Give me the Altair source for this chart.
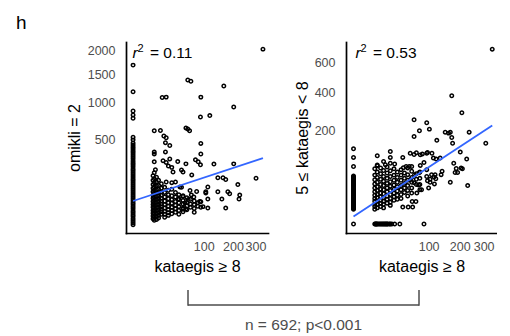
import math
import altair as alt
import pandas as pd

# ---------------- tick labels ----------------
x_ticks = [100, 200, 300]
left_y_ticks = [500, 1000, 1500, 2000]
right_y_ticks = [200, 400, 600]

# ---------------- left panel: omikli = 2 vs kataegis >= 8 ----------------
left_zero_y = [1690, 1187, 877, 820, 773, 531, 501, 467, 446, 425, 405, 385, 366,
               347, 329, 311, 293, 276, 260, 244, 228, 214, 200, 186, 172, 159,
               147, 135, 124, 113, 103, 93, 83, 74, 66, 58, 51, 44, 38, 32, 26,
               21, 17, 13, 10, 7, 4.5, 2.6, 1.3]
left_x = [338, 60, 67, 165, 17, 22, 92, 203, 91, 118, 56, 60, 64, 9, 15, 19, 22,
          21, 27, 92, 9, 9, 21, 92, 78, 85, 91, 9, 18, 22, 27, 40, 56, 131, 203,
          10, 25, 30, 32, 47, 50, 69, 144, 162, 172, 303, 22, 30, 36, 220, 47, 44,
          112, 106, 144, 180, 187, 228, 225, 158, 92, 112, 112, 92, 172, 56, 50,
          41, 50, 54, 65, 68, 61, 74, 81, 89, 98, 106]
left_y = [2035, 1397, 1373, 1287, 1089, 1095, 1095, 938, 791, 810, 644, 630, 608,
          608, 612, 545, 525, 470, 440, 462, 375, 356, 375, 355, 302, 285, 260,
          285, 295, 280, 310, 287, 268, 266, 268, 222, 250, 240, 205, 220, 205,
          185, 166, 166, 155, 163, 140, 136, 140, 125, 110, 112, 112, 88, 88, 88,
          79, 73, 57, 57, 47, 57, 28, 30, 28, 26, 25,
          55, 67, 43, 94, 74, 55, 65, 89, 48, 32, 82]
left_cluster = {
    8: [180, 150, 125, 105, 88, 72, 60, 48, 38, 30, 22, 16, 11, 7],
    9: [200, 160, 135, 112, 95, 80, 66, 54, 44, 35, 27, 20, 14, 9, 5],
    11: [170, 140, 118, 98, 82, 68, 56, 46, 37, 29, 22, 16, 10, 6],
    13: [150, 120, 100, 84, 70, 58, 47, 38, 30, 23, 17, 12, 8],
    16: [130, 105, 88, 72, 60, 49, 40, 32, 25, 19, 14],
    20: [110, 85, 65, 50, 38, 28, 20, 14, 9],
    25: [95, 75, 58, 44, 33, 24, 17, 12],
    30: [100, 70, 55, 42, 30, 22, 15],
    36: [85, 65, 48, 36, 26, 18],
    42: [75, 58, 44, 32, 22, 14],
    50: [70, 52, 40, 28, 19],
    58: [62, 45, 34, 24],
    66: [56, 40, 30],
    75: [50, 38, 27, 18],
    84: [44, 33],
}
left_fit_x = [0, 338]
left_fit_y = [50, 317]
left_r2 = 0.11

# ---------------- right panel: 5 <= kataegis < 8 vs kataegis >= 8 ----------------
right_zero_y = [130, 102, 76, 53, 51, 49, 47, 45, 43, 41, 39, 37, 35, 34, 32, 30,
                28, 27, 25, 24, 22, 21, 19, 18, 17, 16, 14.5, 13.5, 12.4, 11.4,
                10.4, 9.5, 8.6, 7.7, 6.9, 6.1, 5.5, 5, 0]
right_base_x = [8, 8.5, 9, 9.5, 10, 11, 12, 13, 14, 15, 16, 17, 18, 19, 20, 21, 23,
                24, 26, 30, 38, 88]
right_x = [341, 171, 208, 65, 95, 65, 77, 102, 149, 166, 237, 171, 174, 123, 310,
           10, 24, 24, 43, 57, 65, 70, 84, 95, 109, 202, 10, 18, 30, 49, 55, 60,
           88, 79, 113, 133, 178, 187, 183, 210, 227, 231, 166, 95, 95, 108, 118,
           136, 120, 104, 116, 61, 69, 53, 62, 43, 82, 100, 97, 104, 115,
           160, 192, 205, 79, 97, 121, 139, 44, 66, 77, 57, 65, 75, 71]
right_y = [703, 378, 285, 250, 236, 176, 200, 207, 194, 194, 194, 172, 150, 161, 150,
           107, 121, 102, 102, 115, 111, 117, 113, 115, 115, 119, 78, 81, 83, 76, 76,
           76, 87, 79, 100, 100, 85, 71, 61, 70, 97, 34, 40, 68, 52, 56, 56, 56, 47,
           40, 37, 11.7, 11.7, 6.6, 6.6, 6.6, 27, 30, 43, 46, 51,
           190, 61, 72, 110, 118, 97, 64, 73, 56, 61, 45, 39, 35, 22]
right_cluster = {
    8: [70, 55, 45, 37, 30, 24, 19, 15, 12, 9, 7, 5],
    10: [80, 62, 50, 40, 32, 26, 20, 16, 12, 9, 6],
    13: [72, 58, 46, 36, 28, 22, 17, 13, 10, 7],
    16: [90, 66, 52, 42, 34, 27, 21, 16, 12, 9, 6],
    20: [75, 60, 48, 38, 30, 24, 18, 14, 10],
    24: [85, 65, 52, 41, 33, 26, 20, 15, 11, 8],
    29: [70, 55, 44, 35, 28, 22, 17, 13],
    34: [62, 50, 40, 32, 25, 19, 14],
    40: [68, 55, 44, 34, 27, 20, 15],
    46: [60, 48, 38, 30, 23],
    52: [72, 56, 44, 34, 26, 18],
    60: [64, 50, 40, 30, 22],
    70: [58, 46, 36],
    78: [62, 48, 36, 27],
}
right_fit_x = [0, 341]
right_fit_y = [1.3, 223]
right_r2 = 0.53

n_samples = 692
p_label = "p<0.001"
panel_label = "h"

# ---------------- tables ----------------
def build(zero_y, xs, ys, cluster, base_x=None):
    rows = [(0, v) for v in zero_y] + list(zip(xs, ys))
    for cx, cys in cluster.items():
        rows += [(cx, v) for v in cys]
    if base_x:
        rows += [(v, 0) for v in base_x]
    return pd.DataFrame(rows, columns=["x", "y"])

left_df = build(left_zero_y, left_x, left_y, left_cluster)
right_df = build(right_zero_y, right_x, right_y, right_cluster, right_base_x)
left_fit = pd.DataFrame({"x": left_fit_x, "y": left_fit_y})
right_fit = pd.DataFrame({"x": right_fit_x, "y": right_fit_y})
one = pd.DataFrame({"a": [0]})

FONT = "Liberation Sans"
LABEL_COLOR = "#4d4d4d"
H = 191


def panel(df, fit, r2, ytitle, ydomain, yticks, width, ytitle_x, rx):
    xscale = alt.Scale(domain=[-1.0, 19.1], nice=False, zero=False)
    yscale = alt.Scale(domain=ydomain, nice=False, zero=False)
    xaxis = alt.Axis(values=[math.sqrt(v) for v in x_ticks],
                     labelExpr="format(datum.value * datum.value, '.0f')",
                     ticks=False, tickSize=0, grid=False, labelPadding=7,
                     labelFontSize=12.5, labelColor=LABEL_COLOR, labelOverlap=False,
                     labelFlush=False, domainColor="black", domainWidth=1.7,
                     domainCap="square", title="kataegis ≥ 8", titleFontSize=16,
                     titleFontWeight="normal", titleColor="black",
                     titleX=width / 2, titleY=38.7, titleBaseline="alphabetic",
                     titleAlign="center")
    yaxis = alt.Axis(values=[math.sqrt(v) for v in yticks],
                     labelExpr="format(datum.value * datum.value, '.0f')",
                     ticks=False, tickSize=0, grid=False, labelPadding=11,
                     labelFontSize=12.5, labelColor=LABEL_COLOR, labelOverlap=False,
                     labelFlush=False, domainColor="black", domainWidth=1.7,
                     domainCap="square", title=ytitle, titleFontSize=16,
                     titleFontWeight="normal", titleColor="black",
                     titleX=ytitle_x, titleY=H / 2, titleBaseline="middle",
                     titleAlign="center", titleAngle=270)
    pts = alt.Chart(df).transform_calculate(
        xs="sqrt(datum.x)", ys="sqrt(datum.y)"
    ).mark_point(shape="circle", filled=False, color="black", size=12,
                 strokeWidth=1.5, opacity=1).encode(
        x=alt.X("xs:Q", scale=xscale, axis=xaxis),
        y=alt.Y("ys:Q", scale=yscale, axis=yaxis),
    )
    line = alt.Chart(fit).transform_calculate(
        xs="sqrt(datum.x)", ys="sqrt(datum.y)"
    ).mark_line(color="#3366FF", strokeWidth=1.8).encode(
        x=alt.X("xs:Q", scale=xscale), y=alt.Y("ys:Q", scale=yscale)
    )
    ann = pd.DataFrame({"r2": [r2]})
    r_t = alt.Chart(ann).mark_text(text="r", fontStyle="italic", fontSize=15.5,
                                   align="left", baseline="alphabetic",
                                   color="black").encode(
        x=alt.value(rx), y=alt.value(15.5))
    sup = alt.Chart(ann).mark_text(text="2", fontSize=11, align="left",
                                   baseline="alphabetic", color="black").encode(
        x=alt.value(rx + 5), y=alt.value(10.3))
    eq = alt.Chart(ann).transform_calculate(
        lab="'= ' + format(datum.r2, '.2f')"
    ).mark_text(fontSize=15.5, align="left", baseline="alphabetic",
                color="black").encode(
        x=alt.value(rx + 17.5), y=alt.value(15.5), text="lab:N")
    return [pts, line, r_t, sup, eq]


left_layers = panel(left_df, left_fit, left_r2, "omikli = 2", [-0.95, 46.9],
                    left_y_ticks, 142, -52, 6.5)
right_layers = panel(right_df, right_fit, right_r2, "5 ≤ kataegis < 8",
                     [-1.36, 27.6], right_y_ticks, 151, -44, 9.5)

# anchor + panel tag + bracket (left panel pixel frame)
anchor = alt.Chart(one).mark_rect(color="white").encode(
    x=alt.value(-126), x2=alt.value(-122), y=alt.value(-42), y2=alt.value(-38))
tag = alt.Chart(one).mark_text(text=panel_label, fontSize=19, align="left",
                               baseline="alphabetic", color="black").encode(
    x=alt.value(-110), y=alt.value(-12.7))
br_h = alt.Chart(one).mark_rule(color=LABEL_COLOR, strokeWidth=1.5).encode(
    x=alt.value(62), x2=alt.value(293), y=alt.value(263))
br_l = alt.Chart(one).mark_rule(color=LABEL_COLOR, strokeWidth=1.5).encode(
    x=alt.value(62), y=alt.value(248), y2=alt.value(263.7))
br_r = alt.Chart(one).mark_rule(color=LABEL_COLOR, strokeWidth=1.5).encode(
    x=alt.value(293), y=alt.value(248), y2=alt.value(263.7))
stat = alt.Chart(one).mark_text(text=f"n = {n_samples}; {p_label}", fontSize=15.5,
                                align="center", baseline="alphabetic",
                                color=LABEL_COLOR).encode(
    x=alt.value(177.5), y=alt.value(288))

left = alt.layer(anchor, *left_layers, tag, br_h, br_l, br_r, stat).properties(
    width=142, height=H)
right = alt.layer(*right_layers).properties(width=151, height=H)

chart = alt.hconcat(left, right, spacing=78, bounds="flush").properties(
    padding=0
).configure(font=FONT).configure_view(strokeWidth=0)

chart.save("out.html", embed_options={"renderer": "svg", "actions": False})
